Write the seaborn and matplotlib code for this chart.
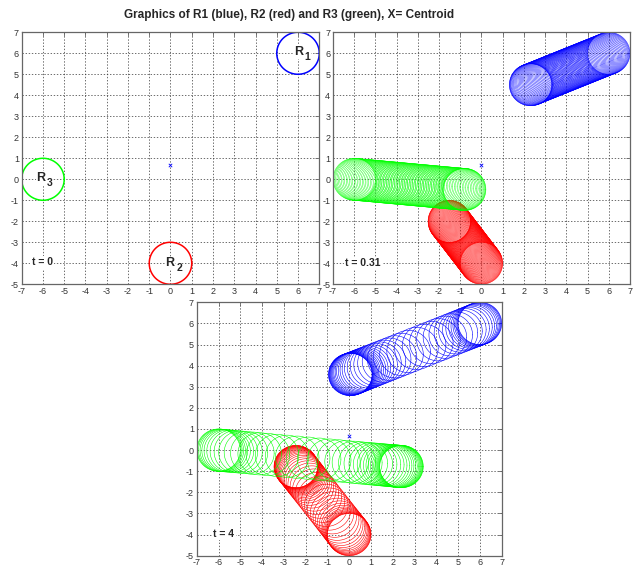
import numpy as np
import pandas as pd
import seaborn as sns
import matplotlib
matplotlib.use("Agg")
import matplotlib.pyplot as plt

sns.set_style("white")
plt.rcParams["font.family"] = ["Liberation Sans", "DejaVu Sans"]
plt.rcParams["axes.unicode_minus"] = False

# Robots, their colours and start / final centre positions
bodies = ["R1", "R2", "R3"]
body_colors = ["#0000ff", "#ff0000", "#00ff00"]
start_x = [6.0, 0.0, -6.0]
start_y = [6.0, -4.0, 0.0]
final_x = [0.05, -2.45, 2.40]
final_y = [3.58, -0.78, -0.78]
radius = 1.0

# Fraction of the way travelled at each recorded step
progress_t0 = [0.0]
progress_t031 = [0, 0.004, 0.009, 0.015, 0.022, 0.030, 0.038, 0.047, 0.056,
                 0.065, 0.074, 0.083, 0.092, 0.101, 0.110, 0.119, 0.128,
                 0.137, 0.146, 0.155, 0.164, 0.173, 0.182, 0.191, 0.200,
                 0.209, 0.218, 0.227, 0.236, 0.245, 0.254, 0.263, 0.272,
                 0.281, 0.290, 0.299, 0.308, 0.317, 0.326, 0.335, 0.344,
                 0.353, 0.362, 0.371, 0.380, 0.389, 0.398, 0.407, 0.416,
                 0.425, 0.434, 0.443, 0.452, 0.461, 0.470, 0.479, 0.488,
                 0.497, 0.506, 0.515, 0.524, 0.533, 0.542, 0.551, 0.560,
                 0.568, 0.576, 0.584, 0.591, 0.598, 0.604, 0.609, 0.613,
                 0.616, 0.618, 0.620]
progress_t4 = [0, 0.004, 0.010, 0.018, 0.028, 0.040, 0.055, 0.073, 0.095,
               0.120, 0.150, 0.185, 0.225, 0.270, 0.320, 0.375, 0.430,
               0.490, 0.550, 0.605, 0.655, 0.700, 0.740, 0.775, 0.805,
               0.832, 0.856, 0.877, 0.895, 0.911, 0.925, 0.938, 0.949,
               0.959, 0.967, 0.974, 0.980, 0.985, 0.989, 0.993, 0.996,
               0.998, 1.0]

panel_labels = ["t = 0", "t = 0.31", "t = 4"]
panel_progress = [progress_t0, progress_t031, progress_t4]
panel_linewidth = [1.1, 0.3, 0.4]
body_subscripts = ["1", "2", "3"]

x_ticks = list(range(-7, 8))
y_ticks = list(range(-5, 8))

centroid_x = float(np.mean(start_x))
centroid_y = float(np.mean(start_y))

theta = np.linspace(0, 2 * np.pi, 73)


def circle_table(progress):
    rows = []
    uid = 0
    for b, sx, sy, fx, fy in zip(bodies, start_x, start_y, final_x, final_y):
        for s in progress:
            cx = sx + s * (fx - sx)
            cy = sy + s * (fy - sy)
            rows.append(pd.DataFrame({
                "x": cx + radius * np.cos(theta),
                "y": cy + radius * np.sin(theta),
                "body": b,
                "circle": uid,
            }))
            uid += 1
    return pd.concat(rows, ignore_index=True)


fig = plt.figure(figsize=(6.34, 5.68), dpi=100)
rects = [
    [0.0342, 0.4995, 0.4694, 0.4437],
    [0.5252, 0.4995, 0.4685, 0.4437],
    [0.3103, 0.0217, 0.4810, 0.4461],
]
label_pos = [(-6.53, -3.95), (-6.42, -3.98), (-6.24, -3.95)]

for i, (rect, prog, lab) in enumerate(zip(rects, panel_progress, panel_labels)):
    ax = fig.add_axes(rect)
    df = circle_table(prog)
    sns.lineplot(data=df, x="x", y="y", hue="body", units="circle",
                 estimator=None, sort=False, palette=dict(zip(bodies, body_colors)),
                 hue_order=bodies, linewidth=panel_linewidth[i],
                 legend=False, ax=ax)
    sns.scatterplot(x=[centroid_x], y=[centroid_y], marker="x", color="#0000ff",
                    s=6, linewidth=0.6, ax=ax, zorder=5)
    ax.set_xlim(-7, 7)
    ax.set_ylim(-5, 7)
    ax.set_xticks(x_ticks)
    ax.set_yticks(y_ticks)
    ax.set_xlabel("")
    ax.set_ylabel("")
    ax.grid(True, linestyle=(0, (2.0, 2.5)), color="#333333", linewidth=0.5)
    ax.set_axisbelow(True)
    for sp in ax.spines.values():
        sp.set_visible(True)
        sp.set_color("#666666")
        sp.set_linewidth(0.9)
    ax.tick_params(direction="in", length=3, width=0.6, top=True, right=True,
                   labelsize=6.5, labelcolor="#333333", color="#666666", pad=2)
    ax.text(label_pos[i][0], label_pos[i][1], lab, fontsize=7.5,
            fontweight="bold", ha="left", va="center",
            bbox=dict(facecolor="white", edgecolor="none", pad=1.0), zorder=6)
    if i == 0:
        offs = [(-0.2, 0.05), (-0.23, 0.0), (-0.3, 0.05)]
        for sub, sx, sy, (ox, oy) in zip(body_subscripts, start_x, start_y, offs):
            ax.text(sx + ox, sy + oy, "R", fontsize=9, fontweight="bold",
                    ha="left", va="center",
                    bbox=dict(facecolor="white", edgecolor="none", pad=0.5),
                    zorder=6)
            ax.text(sx + ox + 0.5, sy + oy - 0.22, sub, fontsize=7.5,
                    fontweight="bold", ha="left", va="center",
                    bbox=dict(facecolor="white", edgecolor="none", pad=0.3),
                    zorder=6)

fig.text(0.456, 0.974, "Graphics of R1 (blue), R2 (red) and R3 (green), X= Centroid",
         ha="center", va="center", fontsize=8.5, fontweight="bold")

fig.savefig("out.png", dpi=100)
